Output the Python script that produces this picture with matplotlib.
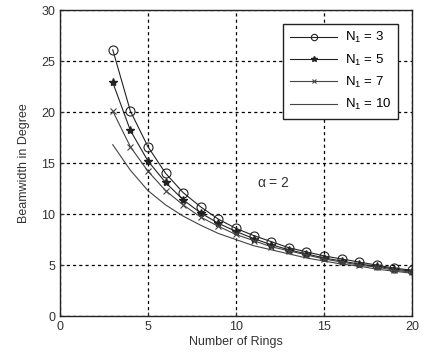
import matplotlib
matplotlib.use("Agg")
import matplotlib.pyplot as plt

rings = list(range(3, 21))
n3 = [26.1, 20.1, 16.6, 14.0, 12.1, 10.7, 9.5, 8.6, 7.9, 7.3, 6.7, 6.3, 5.9, 5.6, 5.3, 5.0, 4.7, 4.5]
n5 = [22.9, 18.2, 15.2, 13.1, 11.4, 10.1, 9.1, 8.3, 7.6, 7.0, 6.5, 6.1, 5.7, 5.4, 5.1, 4.9, 4.6, 4.4]
n7 = [20.1, 16.6, 14.2, 12.3, 10.9, 9.7, 8.8, 8.0, 7.4, 6.8, 6.4, 6.0, 5.6, 5.3, 5.0, 4.8, 4.5, 4.3]
n10 = [16.8, 14.3, 12.3, 10.9, 9.8, 8.9, 8.1, 7.5, 6.9, 6.5, 6.1, 5.7, 5.4, 5.1, 4.9, 4.6, 4.4, 4.2]
labels = [r'N$_1$ = 3', r'N$_1$ = 5', r'N$_1$ = 7', r'N$_1$ = 10']
xticks = [0, 5, 10, 15, 20]
yticks = [0, 5, 10, 15, 20, 25, 30]

plt.rcParams['font.family'] = ['Liberation Sans', 'DejaVu Sans']
plt.rcParams['mathtext.fontset'] = 'custom'
plt.rcParams['mathtext.rm'] = 'Liberation Sans'
plt.rcParams['mathtext.it'] = 'Liberation Sans'

fig = plt.figure(figsize=(4.44, 3.58), dpi=100)
ax = fig.add_axes([0.135, 0.117, 0.793, 0.855])

ax.plot(rings, n3, color='#222222', lw=0.8, marker='o', ms=6.5, mfc='none', mec='#222222', mew=0.8, label=labels[0])
ax.plot(rings, n5, color='#222222', lw=0.8, marker='*', ms=6, mfc='#222222', mec='#222222', label=labels[1])
ax.plot(rings, n7, color='#444444', lw=0.8, marker='x', ms=4.5, mec='#444444', mew=0.8, label=labels[2])
ax.plot(rings, n10, color='#444444', lw=0.8, label=labels[3])

ax.set_xlim(0, 20)
ax.set_ylim(0, 30)
ax.set_xticks(xticks)
ax.set_yticks(yticks)
ax.tick_params(direction='in', length=3, labelsize=9, colors='#333333')
ax.grid(True, color='black', linestyle=(0, (2.5, 2.5)), linewidth=0.9)
for s in ax.spines.values():
    s.set_linewidth(1.0)
    s.set_color('#222222')

ax.set_xlabel('Number of Rings', fontsize=9, color='#333333', labelpad=2)
ax.set_ylabel('Beamwidth in Degree', fontsize=9, color='#333333', labelpad=8)
ax.text(11.2, 13.0, r'$\alpha$ = 2', fontsize=10, color='#333333', va='center')

leg = ax.legend(loc='upper right', fontsize=9.5, handlelength=3.6, markerscale=0.7, frameon=True, fancybox=False,
                edgecolor='#222222', borderpad=0.5, labelspacing=0.55, handletextpad=0.6,
                bbox_to_anchor=(0.98, 0.977))
leg.get_frame().set_linewidth(1.0)
leg.get_frame().set_alpha(1)

fig.savefig('out.png', dpi=100)
